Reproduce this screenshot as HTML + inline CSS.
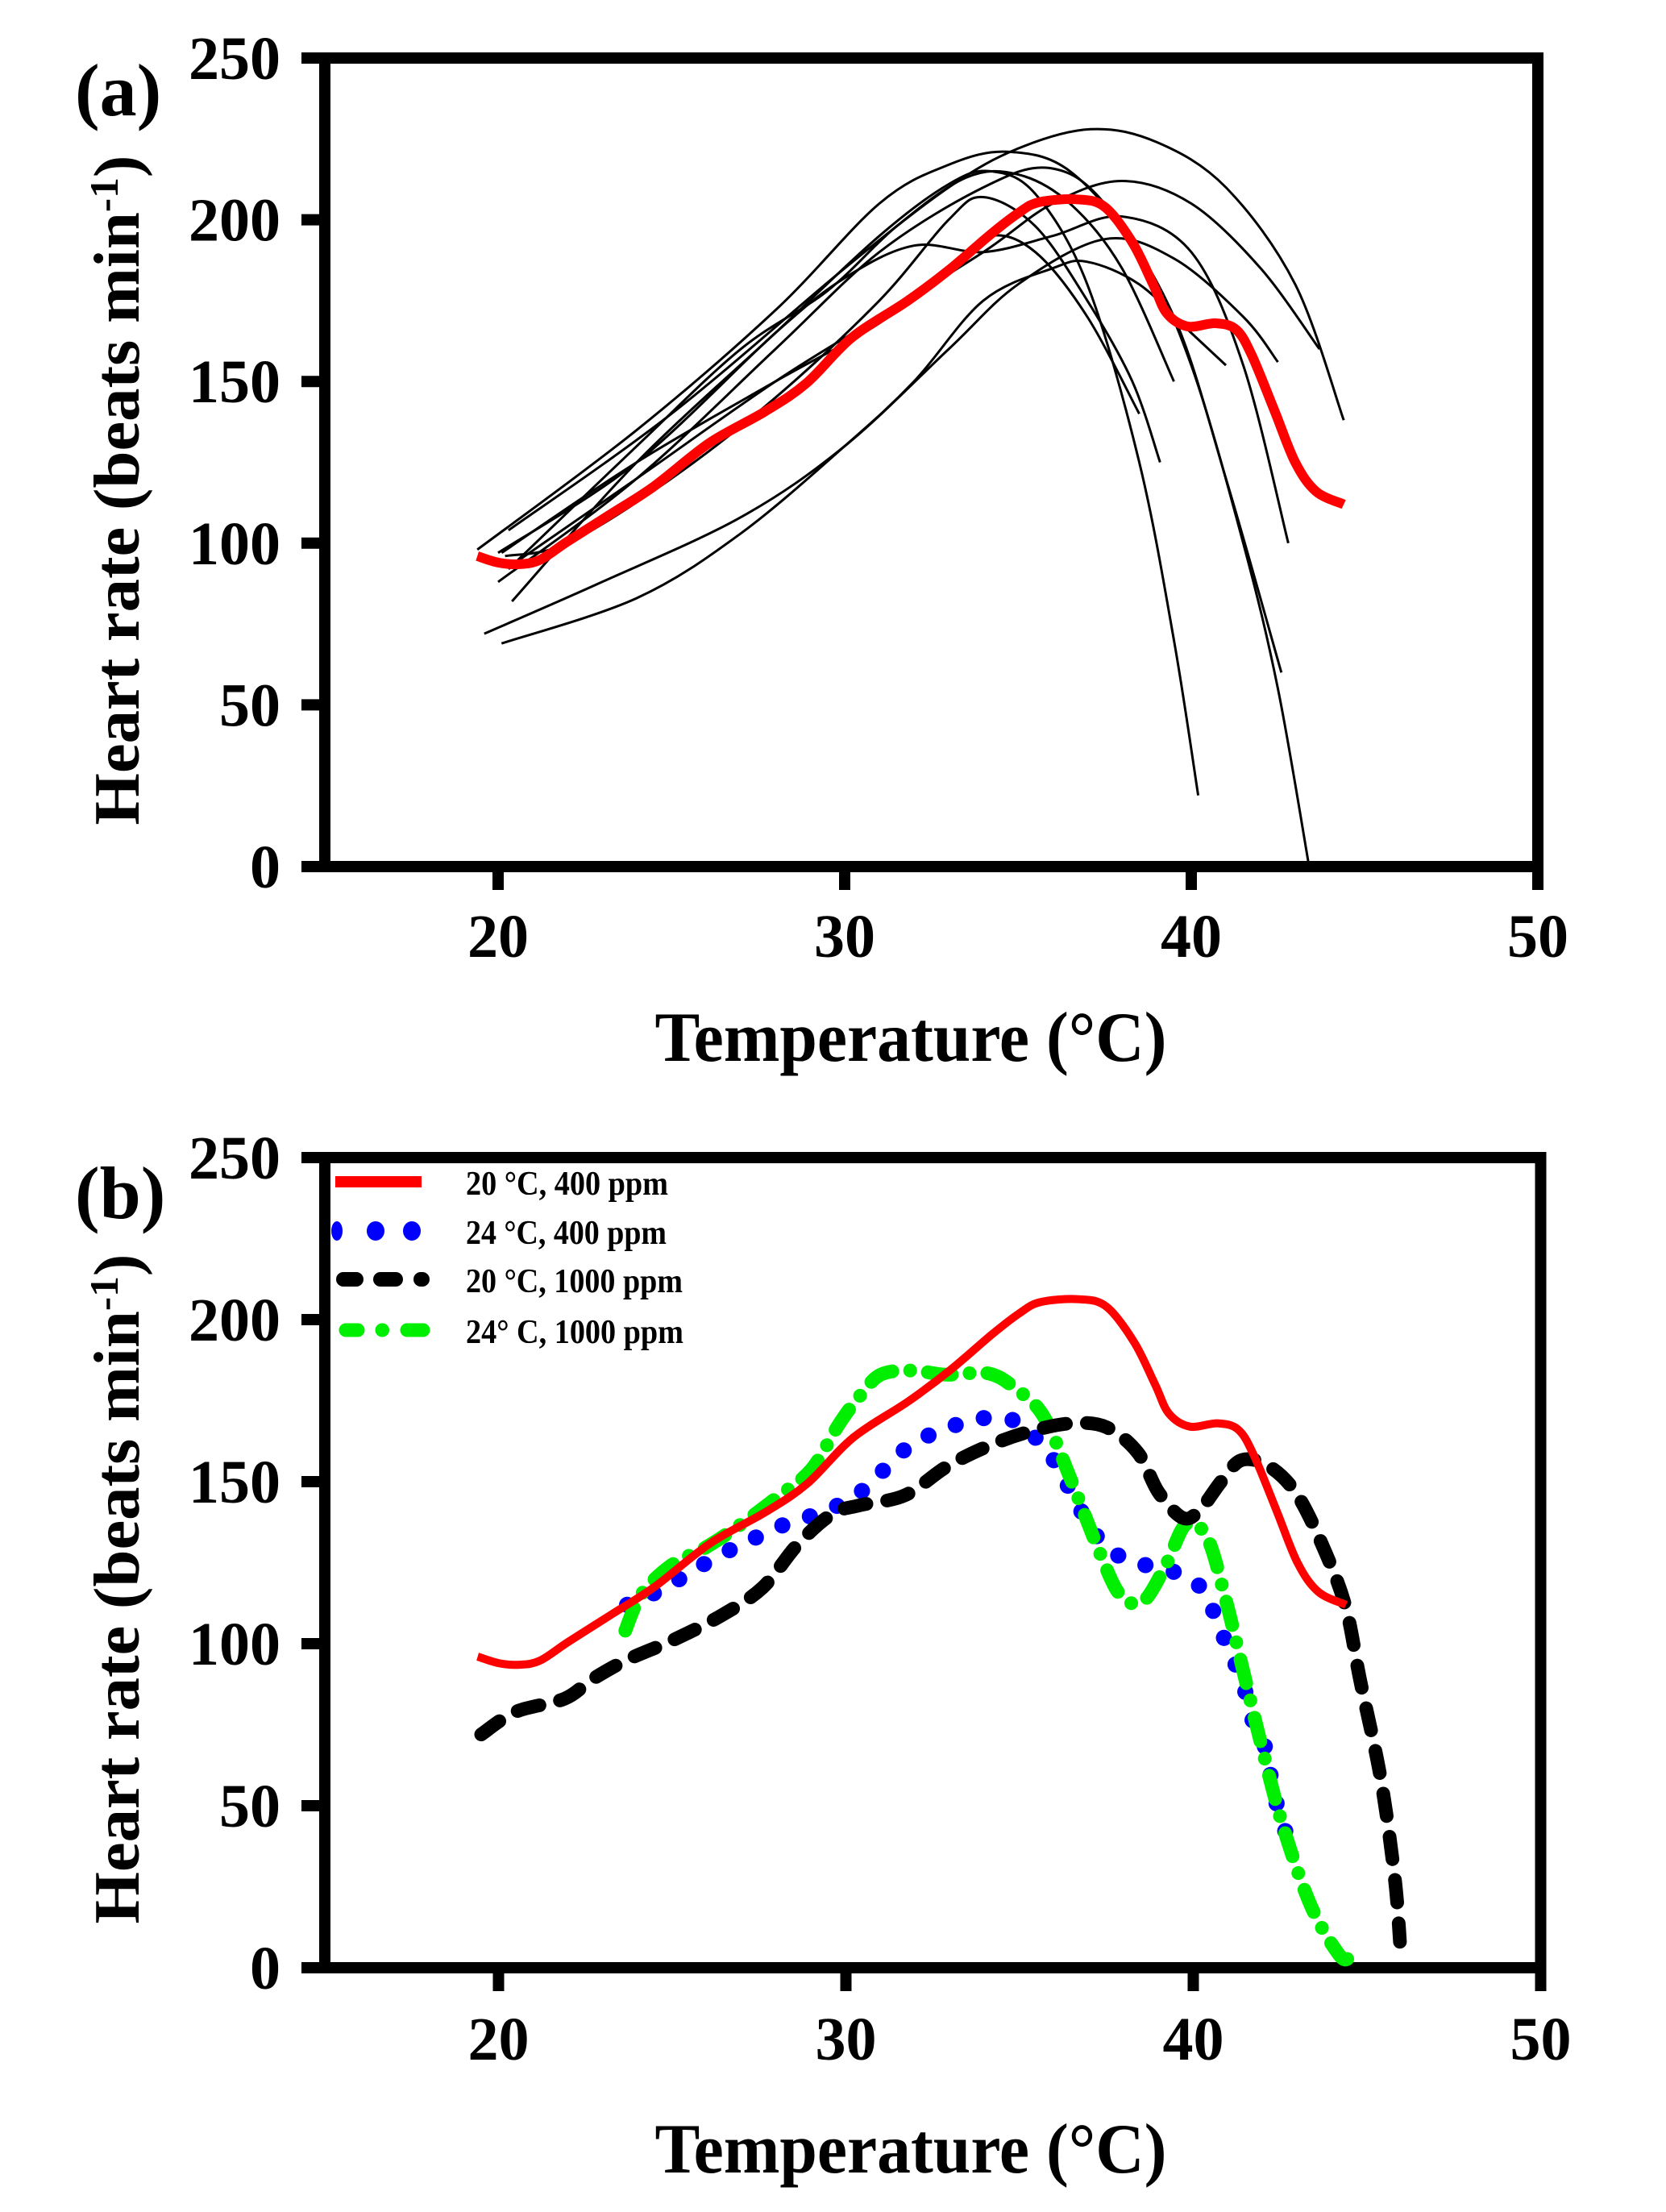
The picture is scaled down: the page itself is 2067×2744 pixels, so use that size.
<!DOCTYPE html>
<html><head><meta charset="utf-8"><style>
html,body{margin:0;padding:0;background:#fff;}
svg{display:block;}
text{font-family:"Liberation Serif",serif;font-weight:bold;fill:#000;}
</style></head><body>
<svg id="fig" width="2067" height="2744" viewBox="0 0 2067 2744" xmlns="http://www.w3.org/2000/svg">
<g id="pa"></g>
<g id="pb"></g>
</svg>
<script>
const NS="http://www.w3.org/2000/svg";
const xTicks=[20,30,40,50];
const yTicks=[0,50,100,150,200,250];
// red mean curve (20 °C, 400 ppm)
const redT=[19.4,20,20.6,21.2,22,23.25,24.5,26.1,27.7,28.9,30.2,31.8,33,34.2,35,35.6,36.7,37.5,38.3,38.9,39.3,39.9,40.7,41.3,41.75,42.4,43,43.6,44.4];
const redHR=[96,94,93.5,94.8,100.5,109,117.6,131,140.7,149.5,163.5,174.8,184.4,195.4,202,205.4,206.3,204,193,180,171,167,168,166,158,141,125,116,112];
// individual curves in panel a: temperatures and heart rates
const indT=[
[20.3,25,30,33,35,37.1,39,41,43,44.4],
[19.4,24,28,31,33,34.7,36.5,38.5,40,41.5,42.5,43.4],
[20.4,24,28,31,33,34.2,35.5,37,38.5,39.5,40.2],
[20,24,28,31,34,35.9,37.5,39.5,41,42.6],
[20.2,22,25,28,31,33,34,35.5,37,38.3,39.1],
[20.5,24,28,31,34,36,38,40,42,43.7],
[20,24,28,30,32,34,36,38,40,41.5,42.8],
[19.6,23,27,30,33,35,37.5,39.5,41.5,42.5],
[20.1,24,27,30,32,34,36,37,38.5,40,41],
[20.1,24,28,31,33,34.2,35.5,37,38.5],
[20.3,24,27,29.5,31.5,33.5,35,36.5,38,39.5]
];
const indHR=[
[104,140,185,210,222,228,224,210,180,138],
[98,135,172,205,217,221,215,190,155,100,55,0],
[82,125,165,195,211,215,208,180,125,70,22],
[88,120,160,190,210,216,205,170,120,60],
[96,100,120,145,175,200,207,198,175,150,125],
[94,120,150,170,190,205,212,205,185,160],
[97,125,165,182,192,190,195,201,190,155,100],
[72,88,108,130,160,180,194,188,170,156],
[69,83,103,130,150,175,185,187,180,165,155],
[97,125,150,168,185,195,190,170,140],
[92,130,160,178,198,213,214,205,185,150]
];
// panel b series
const blueT=[23.7,24.75,25.6,26.5,27.4,28.4,29.3,30.3,31.1,31.9,32.9,33.8,34.8,35.6,36.1,36.7,37.3,38.1,39.2,40.1,40.6,41,41.4,41.7,42.1,42.3,42.6,42.9];
const blueHR=[112,117,122.6,128,132.7,137.5,140.5,145.8,153.7,161.6,166.4,169.4,169,162,154.6,142.3,132.2,125.7,123,118.6,109.5,98.5,88.9,76.6,67,54.7,43.8,33.7];
const blackT=[19.5,20.5,21.9,22.7,23.7,25,26.4,27.6,28.6,29.6,30.4,31.7,32.9,34.1,35.3,36.5,37.5,38.4,39,39.7,40.2,40.8,41.4,42.2,43,43.8,44.4,44.8,45.4,45.8,45.95];
const blackHR=[72,79,83,89,95,101,108.6,117.3,130.5,140,142.7,145.8,154.6,161,165.5,168,166.8,159,146.7,138.8,141.4,150,156.7,154.6,145.8,128.3,110.8,88.9,58.2,27.6,8];
const greenT=[23.65,24.1,24.95,25.95,27,28,29,29.8,30.4,31,31.9,32.9,34.1,34.9,35.7,36.5,37.3,37.9,38.55,39.2,39.8,40.4,40.9,41.4,42,42.6,43.4,44.2,44.5];
const greenHR=[104,115,124,129.6,137,145,153.7,167.7,176.4,183,184.3,183,183.4,178.6,170,150,128.3,115,113,124,137,132.7,115,93.3,67,43,18.8,4,3];

function el(tag,attrs,parent){const e=document.createElementNS(NS,tag);for(const k in attrs)e.setAttribute(k,attrs[k]);parent.appendChild(e);return e;}
function spline(pts){
  let d="M"+pts[0][0].toFixed(1)+","+pts[0][1].toFixed(1);
  for(let i=0;i<pts.length-1;i++){
    const p0=pts[i-1]||pts[i],p1=pts[i],p2=pts[i+1],p3=pts[i+2]||p2;
    const c1=[p1[0]+(p2[0]-p0[0])/6,p1[1]+(p2[1]-p0[1])/6];
    const c2=[p2[0]-(p3[0]-p1[0])/6,p2[1]-(p3[1]-p1[1])/6];
    d+=" C"+c1[0].toFixed(1)+","+c1[1].toFixed(1)+" "+c2[0].toFixed(1)+","+c2[1].toFixed(1)+" "+p2[0].toFixed(1)+","+p2[1].toFixed(1);
  }
  return d;
}
function makeAxes(g,X,Y,letter,letterY,titleBaseY,xLabBase,yTitleCenter){
  const L=X(15),R=X(50),T=Y(250),B=Y(0);
  let e;
  e=el("rect",{x:L,y:T,width:R-L,height:B-T,fill:"none",stroke:"#000","stroke-width":14},g);
  
  
  xTicks.forEach(t=>{
    e=el("line",{x1:X(t),x2:X(t),y1:B,y2:B+29,stroke:"#000","stroke-width":14},g);
    
    
    e=el("text",{x:X(t),y:xLabBase,"font-size":76,"text-anchor":"middle"},g);e.textContent=t;
    
    
  });
  yTicks.forEach(v=>{
    e=el("line",{x1:L-29,x2:L,y1:Y(v),y2:Y(v),stroke:"#000","stroke-width":14},g);
    
    
    e=el("text",{x:348,y:Y(v)+26,"font-size":76,"text-anchor":"end"},g);e.textContent=v;
    
    
  });
  e=el("text",{x:1130,y:titleBaseY,"font-size":88,"text-anchor":"middle",textLength:635,lengthAdjust:"spacingAndGlyphs"},g);
  e.textContent="Temperature (°C)";
  
  
  e=el("text",{x:0,y:0,"font-size":80,"text-anchor":"middle",textLength:831,lengthAdjust:"spacingAndGlyphs",transform:"translate(172,"+yTitleCenter+") rotate(-90)"},g);
  e.textContent="Heart rate (beats min";
  const ts=el("tspan",{"font-size":50,dy:-26},e);ts.textContent="-1";
  const ts2=el("tspan",{dy:26},e);ts2.textContent=")";
  
  
  e=el("text",{x:93,y:letterY,"font-size":92},g);e.textContent=letter;
  
  
}
function series(g,X,Y,ts,vs,style,name){
  const pts=ts.map((t,i)=>[X(t),Y(vs[i])]);
  const p=el("path",Object.assign({d:spline(pts),fill:"none"},style),g);
  
  
  return p;
}
// Panel a
const Xa=t=>403+(t-15)*43.0, Ya=v=>1075-v*4.012;
const ga=document.getElementById("pa");
makeAxes(ga,Xa,Ya,"(a)",143,1316,1187,608);
indT.forEach((ts,i)=>{
  series(ga,Xa,Ya,ts,indHR[i],{stroke:"#000","stroke-width":3},"individual-curve");
});
series(ga,Xa,Ya,redT,redHR,{stroke:"#ff0000","stroke-width":12},"mean-curve-red");
// Panel b
const Xb=t=>403+(t-15)*43.1, Yb=v=>2441-v*4.02;
const gb=document.getElementById("pb");
makeAxes(gb,Xb,Yb,"(b)",1511,2695,2555,1971);
series(gb,Xb,Yb,blueT,blueHR,{stroke:"#0000ff","stroke-width":20,"stroke-linecap":"round","stroke-dasharray":"0.1 36"},"series-24c-400ppm");
series(gb,Xb,Yb,greenT,greenHR,{stroke:"#00ee00","stroke-width":17,"stroke-linecap":"round","stroke-dasharray":"30 22 0.1 22"},"series-24c-1000ppm");
series(gb,Xb,Yb,blackT,blackHR,{stroke:"#000","stroke-width":17,"stroke-linecap":"round","stroke-dasharray":"28 26"},"series-20c-1000ppm");
series(gb,Xb,Yb,redT,redHR,{stroke:"#ff0000","stroke-width":10},"series-20c-400ppm");
// Legend
const lg=el("g",{},gb);


const legLabels=["20 °C, 400 ppm","24 °C, 400 ppm","20 °C, 1000 ppm","24° C, 1000 ppm"];
const legY=[1466,1527,1587,1650];
const legW=[251,249,269,270];
let e;
e=el("line",{x1:416,x2:523,y1:legY[0],y2:legY[0],stroke:"#ff0000","stroke-width":14},lg);


[[418,7],[466,11],[511,11]].forEach(c=>{e=el("ellipse",{cx:c[0],cy:legY[1],rx:c[1],ry:12,fill:"#0000ff"},lg);

});
[[426,442],[472,491],[522,524]].forEach(s=>{e=el("line",{x1:s[0],x2:s[1],y1:legY[2],y2:legY[2],stroke:"#000","stroke-width":18,"stroke-linecap":"round"},lg);

});
[[429,444],[474,474.5],[505,525]].forEach(s=>{e=el("line",{x1:s[0],x2:s[1],y1:legY[3],y2:legY[3],stroke:"#00ee00","stroke-width":17,"stroke-linecap":"round"},lg);

});
legLabels.forEach((s,i)=>{
  e=el("text",{x:578,y:legY[i]+16,"font-size":42,textLength:legW[i],lengthAdjust:"spacingAndGlyphs"},lg);
  e.textContent=s;
  
  
});
</script>
</body></html>
